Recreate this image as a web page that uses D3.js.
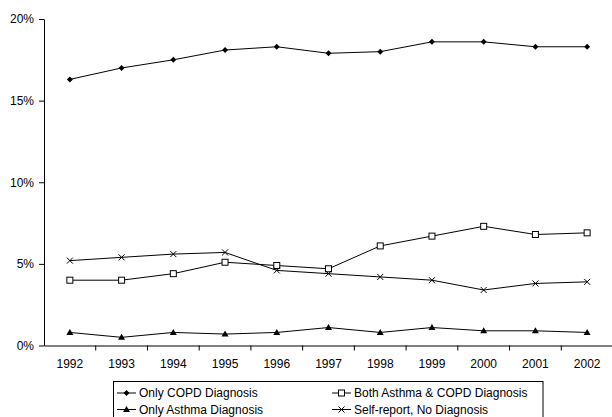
<!DOCTYPE html>
<html><head><meta charset="utf-8">
<script src="https://cdn.jsdelivr.net/npm/d3@7"></script>
<style>body{margin:0;background:#fff}svg{display:block;font-family:"Liberation Sans",Arial,sans-serif}</style>
</head><body><svg id="c" width="612" height="417"></svg>
<script>
const years = ["1992","1993","1994","1995","1996","1997","1998","1999","2000","2001","2002"];
const onlyCOPD = [16.3,17.0,17.5,18.1,18.3,17.9,18.0,18.6,18.6,18.3,18.3];
const bothAsthmaCOPD = [4.0,4.0,4.4,5.1,4.9,4.7,6.1,6.7,7.3,6.8,6.9];
const onlyAsthma = [0.8,0.5,0.8,0.7,0.8,1.1,0.8,1.1,0.9,0.9,0.8];
const selfReport = [5.2,5.4,5.6,5.7,4.6,4.4,4.2,4.0,3.4,3.8,3.9];
const yTicks = [0,5,10,15,20];
const seriesNames = ["Only COPD Diagnosis","Both Asthma & COPD Diagnosis","Only Asthma Diagnosis","Self-report, No Diagnosis"];
const seriesSymbols = ["diamond","square","triangle","cross"];

const series = [
  {name:seriesNames[0], values:onlyCOPD, sym:seriesSymbols[0]},
  {name:seriesNames[1], values:bothAsthmaCOPD, sym:seriesSymbols[1]},
  {name:seriesNames[2], values:onlyAsthma, sym:seriesSymbols[2]},
  {name:seriesNames[3], values:selfReport, sym:seriesSymbols[3]}
];

const svg = d3.select("#c");
const L=44, R=613, T=19, B=345.5;
const x = d3.scaleBand().domain(years).range([L,R]);
const y = d3.scaleLinear().domain([0,20]).range([B,T]);

// axes
const yAxis = svg.append("g").attr("transform",`translate(${L},0)`)
  .call(d3.axisLeft(y).tickValues(yTicks).tickFormat(d=>d+"%").tickSize(5).tickSizeOuter(0));
const xAxis = svg.append("g").attr("transform",`translate(0,${B})`)
  .call(d3.axisBottom(x).tickSize(0).tickSizeOuter(0));
[yAxis,xAxis].forEach(g=>{
  g.selectAll("text").attr("font-family","Liberation Sans, Arial, sans-serif").attr("font-size",12).attr("fill","#000");
  g.selectAll("path,line").attr("stroke","#000");
});
yAxis.selectAll("text").attr("x",-10);
xAxis.selectAll("text").attr("y",22.5).attr("dy",0);
// x tick marks between categories
xAxis.selectAll(".sep").data(years.slice(1)).enter().append("line")
  .attr("x1",d=>x(d)).attr("x2",d=>x(d)).attr("y1",0).attr("y2",5).attr("stroke","#000");

const cx = d => x(d)+x.bandwidth()/2;
const line = d3.line().x((d,i)=>cx(years[i])).y(d=>y(d));

function drawMarker(g, sym, px, py){
  if(sym==="diamond"){
    g.append("path").attr("d",`M${px},${py-3}L${px+3},${py}L${px},${py+3}L${px-3},${py}Z`).attr("fill","#000");
  } else if(sym==="square"){
    g.append("rect").attr("x",px-3).attr("y",py-3).attr("width",6).attr("height",6).attr("fill","#fff").attr("stroke","#000").attr("stroke-width",1);
  } else if(sym==="triangle"){
    g.append("path").attr("d",`M${px},${py-3.5}L${px+3.5},${py+2.5}L${px-3.5},${py+2.5}Z`).attr("fill","#000");
  } else {
    g.append("path").attr("d",`M${px-3},${py-3}L${px+3},${py+3}M${px-3},${py+3}L${px+3},${py-3}`).attr("stroke","#000").attr("stroke-width",1);
  }
}

series.forEach(s=>{
  const g = svg.append("g");
  g.append("path").attr("d",line(s.values)).attr("fill","none").attr("stroke","#000").attr("stroke-width",1);
  s.values.forEach((v,i)=>drawMarker(g,s.sym,cx(years[i]),y(v)));
});

// legend
const lg = svg.append("g");
lg.append("rect").attr("x",113.5).attr("y",381.5).attr("width",429.5).attr("height",45).attr("fill","#fff").attr("stroke","#000");
const pos = [[117,393],[332,393],[117,409.5],[332,409.5]];
series.forEach((s,i)=>{
  const [lx,ly]=pos[i];
  lg.append("line").attr("x1",lx).attr("x2",lx+19).attr("y1",ly).attr("y2",ly).attr("stroke","#000");
  drawMarker(lg,s.sym,lx+9.5,ly);
  lg.append("text").attr("x",lx+22).attr("y",ly+4.3).attr("font-size",12).text(s.name);
});
</script></body></html>
